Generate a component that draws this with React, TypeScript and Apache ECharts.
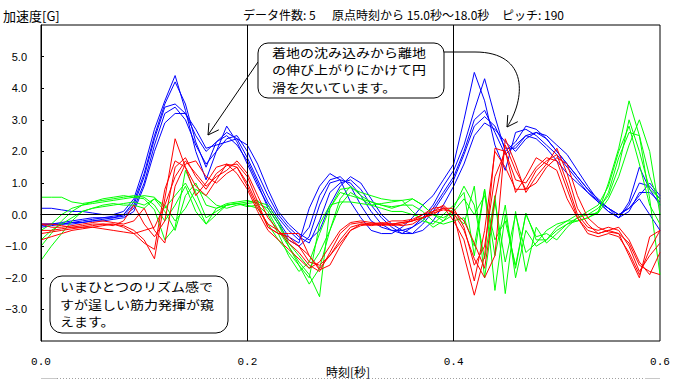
import React, { useEffect, useRef } from 'react';
import * as echarts from 'echarts';

// sampling grid: 0.00 .. 0.60 s, every 0.01 s
const TIMES: number[] = Array.from({ length: 61 }, (_, i) => i / 100);

const X_TICKS = [0, 0.2, 0.4, 0.6];
const Y_LABELS = [-3, -2, -1, 0, 1, 2, 3, 4, 5];

const BLUE_1 = [0.2, 0.2, 0.15, 0.1, 0.1, 0.05, 0.0, 0.0, 0.1, 0.5,
  1.5, 2.7, 3.6, 4.4, 3.3, 2.0, 1.1, 2.0, 2.8, 2.3,
  1.6, 0.9, 0.3, -0.2, -0.7, -0.9, 0.2, 0.9, 1.3, 1.1,
  0.4, -0.1, -0.5, -0.6, -0.6, -0.4, -0.1, 0.3, 0.6, 1.1,
  1.6, 3.0, 4.5, 3.6, 2.2, 1.4, 2.6, 2.7, 2.5, 2.2,
  1.9, 1.5, 1.1, 0.7, 0.4, 0.1, -0.1, 0.4, 1.5, 0.8, 0.3];
const BLUE_2 = [-0.3, -0.3, -0.25, -0.2, -0.15, -0.1, -0.1, -0.05, 0.0, 0.4,
  1.3, 2.5, 3.5, 4.2, 3.5, 2.3, 1.5, 2.3, 2.6, 2.4,
  1.8, 1.1, 0.4, -0.1, -0.5, -0.8, -0.4, 0.6, 1.1, 1.2,
  0.9, 0.3, -0.2, -0.4, -0.5, -0.6, -0.4, -0.1, 0.3, 0.9,
  1.4, 2.2, 3.3, 4.3, 3.1, 2.0, 2.3, 2.8, 2.7, 2.4,
  2.0, 1.6, 1.2, 0.8, 0.5, 0.2, 0.0, 0.2, 0.6, 1.0, 0.6];
const BLUE_3 = [-0.35, -0.3, -0.3, -0.25, -0.2, -0.15, -0.1, -0.1, 0.0, 0.3,
  1.2, 2.4, 3.4, 3.5, 3.2, 2.5, 2.0, 2.3, 2.5, 2.2,
  1.7, 1.0, 0.2, -0.3, -0.8, -1.0, -0.7, 0.3, 1.0, 1.1,
  1.0, 0.6, 0.1, -0.3, -0.5, -0.5, -0.4, -0.2, 0.2, 0.7,
  1.2, 2.0, 3.0, 3.3, 2.6, 1.9, 2.2, 2.5, 2.4, 2.1,
  1.7, 1.3, 1.0, 0.7, 0.4, 0.1, -0.1, 0.3, 1.0, 0.9, 0.5];
const BLUE_4 = [-0.4, -0.35, -0.3, -0.3, -0.25, -0.2, -0.15, -0.1, -0.05, 0.2,
  1.0, 2.2, 3.2, 3.4, 3.0, 2.2, 1.6, 2.0, 2.4, 2.5,
  2.0, 1.3, 0.6, 0.0, -0.4, -0.7, -0.9, -0.2, 0.7, 1.0,
  1.1, 0.8, 0.3, -0.1, -0.4, -0.6, -0.6, -0.3, 0.1, 0.6,
  1.1, 1.9, 2.8, 3.1, 2.8, 2.1, 2.1, 2.5, 2.6, 2.4,
  2.0, 1.6, 1.2, 0.8, 0.4, 0.2, -0.1, 0.1, 0.7, 0.7, 0.4];
const BLUE_5 = [-0.3, -0.3, -0.3, -0.25, -0.25, -0.2, -0.2, -0.15, -0.1, 0.1,
  0.9, 2.0, 2.9, 3.2, 3.2, 2.7, 2.1, 2.2, 2.3, 2.4,
  2.2, 1.6, 0.8, 0.1, -0.3, -0.6, -0.8, -0.5, 0.3, 0.9,
  1.2, 1.0, 0.5, 0.0, -0.3, -0.5, -0.6, -0.5, -0.2, 0.3,
  0.9, 1.6, 2.5, 2.9, 2.7, 2.3, 2.0, 2.4, 2.6, 2.5,
  2.2, 1.9, 1.4, 0.9, 0.45, 0.2, 0.0, 0.2, 0.5, 0.0, -0.5];

const RED_1 = [-0.3, -0.3, -0.35, -0.4, -0.4, -0.35, -0.3, -0.3, -0.35, -0.5,
  -0.8, -1.4, 0.5, 2.4, 1.5, 0.9, 0.6, 1.1, 1.6, 1.5,
  0.9, 0.2, -0.3, -0.5, -0.9, -1.2, -1.6, -1.8, -1.2, -0.6,
  -0.3, -0.25, -0.3, -0.3, -0.3, -0.25, -0.2, -0.1, 0.1, 0.3,
  0.0, -1.3, -2.55, -1.3, 2.1, 2.0, 0.7, 1.2, 1.8, 1.6,
  1.4, 0.5, -0.1, -0.5, -0.6, -0.5, -0.6, -1.3, -2.0, -0.7, -0.5];
const RED_2 = [-0.5, -0.5, -0.45, -0.4, -0.35, -0.3, -0.3, -0.35, -0.2, 0.3,
  -0.3, -0.7, -0.2, 1.5, 1.8, 1.2, 0.8, 1.3, 1.55, 1.6,
  1.2, 0.4, -0.4, -0.6, -0.6, -0.6, -1.3, -1.7, -1.3, -0.8,
  -0.4, -0.3, -0.35, -0.3, -0.2, -0.2, -0.15, 0.0, 0.2, 0.25,
  -0.2, -0.8, -2.1, -0.5, 2.0, 1.5, 0.8, 0.8, 1.4, 1.7,
  1.9, 1.0, 0.0, -0.4, -0.5, -0.4, -0.5, -1.0, -1.8, -1.3, -0.9];
const RED_3 = [-0.8, -0.7, -0.6, -0.5, -0.45, -0.4, -0.35, -0.3, -0.4, -0.6,
  -0.9, -1.1, 0.8, 1.7, 1.5, 0.6, 1.0, 1.5, 1.6, 1.3,
  0.8, 0.1, -0.5, -0.8, -1.1, -1.4, -1.7, -1.5, -1.0, -0.5,
  -0.25, -0.2, -0.25, -0.3, -0.35, -0.3, -0.2, 0.0, 0.1, 0.2,
  0.05, -0.5, -1.4, -2.0, -1.3, 2.4, 1.6, 0.7, 1.2, 1.6,
  2.1, 1.3, 0.2, -0.3, -0.6, -0.5, -0.4, -0.8, -1.5, -1.9, -1.2];
const RED_4 = [-0.6, -0.55, -0.5, -0.45, -0.4, -0.4, -0.45, -0.5, -0.55, -0.6,
  -0.5, -0.4, 0.3, 1.2, 1.7, 1.3, 0.9, 1.2, 1.4, 1.7,
  1.3, 0.6, -0.1, -0.5, -0.8, -1.0, -1.3, -1.75, -1.6, -1.0,
  -0.5, -0.35, -0.3, -0.25, -0.3, -0.35, -0.3, -0.1, 0.05, 0.15,
  0.1, -0.2, -0.9, -1.7, 0.5, 2.2, 1.4, 0.8, 1.0, 1.5,
  1.8, 1.6, 0.6, -0.1, -0.4, -0.55, -0.6, -0.9, -1.6, -1.8, -1.9];
const RED_5 = [-0.3, -0.4, -0.4, -0.35, -0.3, -0.25, -0.2, -0.25, -0.3, -0.2,
  0.2, -0.5, -0.9, 0.9, 1.6, 1.7, 1.2, 1.0, 1.3, 1.5,
  1.0, 0.3, -0.4, -0.6, -0.7, -1.0, -1.5, -1.6, -1.3, -0.9,
  -0.5, -0.3, -0.3, -0.35, -0.3, -0.25, -0.2, -0.1, 0.0, 0.2,
  0.2, -0.4, -1.6, -1.0, 1.2, 2.0, 1.1, 1.0, 1.5, 1.8,
  1.7, 0.8, -0.1, -0.6, -0.7, -0.6, -0.7, -1.2, -1.9, -1.1, -0.5];

const GREEN_1 = [0.55, 0.55, 0.55, 0.4, 0.35, 0.4, 0.5, 0.55, 0.6, 0.55,
  0.5, 0.15, -0.8, -0.4, 1.4, 0.7, -0.1, 0.1, 0.3, 0.35,
  0.4, 0.45, 0.1, -0.5, -1.0, -1.5, -1.9, -2.6, 0.2, 0.8,
  0.85, 0.7, 0.6, 0.5, 0.45, 0.45, 0.1, -0.2, -0.3, 0.0,
  0.3, 0.7, -1.3, 0.8, -2.4, 0.0, -1.7, 0.05, -0.8, -0.8,
  -0.5, -0.3, -0.2, -0.1, 0.05, 1.0, 2.1, 3.6, 2.5, 0.5, -1.9];
const GREEN_2 = [-1.45, -1.0, -0.6, -0.2, 0.1, 0.2, 0.25, 0.3, 0.35, 0.4,
  0.3, 0.5, 0.1, -0.5, 0.6, 1.0, 0.3, 0.2, 0.3, 0.35,
  0.3, 0.2, -0.3, -0.8, -1.2, -1.6, -2.2, -1.7, -0.5, 0.5,
  0.9, 0.6, 0.4, 0.3, 0.2, 0.3, 0.5, 0.3, 0.0, -0.2,
  0.2, 0.9, 0.3, -1.4, 0.6, -2.5, 0.1, -1.8, -0.4, -0.9,
  -0.6, -0.3, -0.1, 0.0, 0.2, 0.6, 1.5, 3.0, 2.0, 0.8, 0.5];
const GREEN_3 = [-1.0, -0.6, -0.2, 0.1, 0.3, 0.4, 0.45, 0.5, 0.55, 0.6,
  0.55, 0.3, -0.2, 0.3, 0.9, 0.1, -0.3, 0.0, 0.3, 0.35,
  0.25, 0.3, 0.0, -0.6, -1.3, -1.8, -1.5, -0.6, 0.2, 0.7,
  0.6, 0.5, 0.3, 0.2, 0.1, 0.1, 0.0, -0.1, -0.4, -0.2,
  0.0, -0.3, 0.9, -2.0, 0.4, -1.5, 0.0, -1.2, -0.9, -0.5,
  -0.3, -0.2, -0.2, -0.1, 0.1, 0.7, 1.8, 2.6, 2.5, 1.2, 0.3];
const GREEN_4 = [-0.8, -0.5, -0.3, -0.1, 0.1, 0.2, 0.3, 0.35, 0.3, 0.3,
  0.2, 0.5, 0.3, -0.2, 0.2, 0.8, 0.6, 0.3, 0.2, 0.3,
  0.35, 0.4, 0.3, -0.2, -0.9, -1.3, -1.7, -1.2, -0.5, 0.3,
  0.7, 0.5, 0.4, 0.3, 0.25, 0.3, 0.3, 0.1, -0.2, -0.3,
  -0.2, -0.1, -1.0, 0.8, -1.3, 0.3, -2.0, -0.5, -1.0, -0.8,
  -0.4, -0.2, 0.0, 0.0, 0.05, 0.5, 1.2, 2.2, 3.0, 2.0, 0.0];
const GREEN_5 = [-0.5, -0.3, 0.0, 0.2, 0.3, 0.35, 0.4, 0.45, 0.5, 0.55,
  0.6, 0.55, 0.2, 0.6, 1.0, 0.4, -0.3, 0.2, 0.35, 0.4,
  0.45, 0.35, 0.2, -0.3, -1.0, -1.6, -2.0, -0.3, 0.3, 0.4,
  0.4, 0.35, 0.3, 0.35, 0.4, 0.45, 0.5, 0.3, 0.0, -0.1,
  0.1, 0.5, 0.0, 0.6, -0.8, -0.2, -1.6, 0.0, -0.7, -0.6,
  -0.8, -0.4, -0.1, 0.1, 0.3, 0.9, 2.0, 2.8, 1.6, 0.3, -0.3];

const BLUE_SET = [BLUE_1, BLUE_2, BLUE_3, BLUE_4, BLUE_5];
const GREEN_SET = [GREEN_1, GREEN_2, GREEN_3, GREEN_4, GREEN_5];
const RED_SET = [RED_1, RED_2, RED_3, RED_4, RED_5];

const HEADER_COUNT = 'データ件数: 5';
const HEADER_RANGE = '原点時刻から 15.0秒〜18.0秒';
const HEADER_PITCH = 'ピッチ: 190';
const Y_NAME = '加速度[G]';
const X_NAME = '時刻[秒]';
const NOTE_1 = ['着地の沈み込みから離地', 'の伸び上がりにかけて円', '滑を欠いています。'];
const NOTE_2 = ['いまひとつのリズム感で', 'すが逞しい筋力発揮が窺', 'えます。'];

const JP = '"Noto Sans CJK JP", sans-serif';

function makeSeries(set: number[][], color: string, withZero: boolean) {
  return set.map((arr, k) => {
    const s: any = {
      type: 'line',
      data: TIMES.map((t, i) => [t, arr[i]]),
      symbol: 'none',
      silent: true,
      lineStyle: { color, width: 1 },
      itemStyle: { color },
      z: 2,
    };
    if (withZero && k === set.length - 1) {
      s.markLine = {
        silent: true,
        symbol: ['none', 'none'],
        label: { show: false },
        lineStyle: { color: '#000', type: 'solid', width: 1 },
        data: [{ yAxis: 0 }],
      };
    }
    return s;
  });
}

function arrowHead(tipX: number, tipY: number, ux: number, uy: number, len: number) {
  const c = Math.cos(Math.PI / 6);
  const s = Math.sin(Math.PI / 6);
  const a = [tipX + len * (c * ux - s * uy), tipY + len * (s * ux + c * uy)];
  const b = [tipX + len * (c * ux + s * uy), tipY + len * (-s * ux + c * uy)];
  return [a, [tipX, tipY], b];
}

function noteLines(lines: string[], x: number, yCenter0: number, step: number) {
  return lines.map((t, i) => ({
    type: 'text', x, y: yCenter0 + i * step, z: 101, scaleX: 14 / 12,
    style: { text: t, font: `12px ${JP}`, fill: '#000', verticalAlign: 'middle', textVerticalAlign: 'middle' },
  }));
}

export default function App() {
  const ref = useRef<HTMLDivElement>(null);
  useEffect(() => {
    if (!ref.current) return;
    const chart = echarts.init(ref.current, undefined, { renderer: 'svg' });
    const u1 = (() => { const dx = 50, dy = -73; const l = Math.hypot(dx, dy); return [dx / l, dy / l]; })();
    const u2 = (() => { const dx = 18, dy = -27; const l = Math.hypot(dx, dy); return [dx / l, dy / l]; })();
    const option: any = {
      animation: false,
      backgroundColor: '#fff',
      grid: {
        left: 41, right: 27, top: 25, bottom: 38,
        show: true, borderColor: '#000', borderWidth: 1, containLabel: false,
      },
      xAxis: {
        type: 'value', min: 0, max: 0.6, interval: 0.2, z: 5,
        axisLine: { show: true, lineStyle: { color: '#000', width: 1 } },
        axisTick: { show: true, customValues: [0.2, 0.4], length: 9, inside: false, lineStyle: { color: '#000' } },
        axisLabel: {
          customValues: X_TICKS,
          formatter: (v: number) => v.toFixed(1),
          margin: 15, color: '#000', fontFamily: '"Liberation Mono", monospace', fontSize: 11,
        },
        splitLine: { show: true, lineStyle: { color: '#000', width: 1 } },
      },
      yAxis: {
        type: 'value', min: -4, max: 6, interval: 1, z: 5,
        axisLine: { show: true, onZero: false, lineStyle: { color: '#000', width: 1 } },
        axisTick: { show: true, inside: true, length: 3, customValues: Y_LABELS, lineStyle: { color: '#000' } },
        axisLabel: {
          customValues: Y_LABELS,
          formatter: (v: number) => (v < 0 ? '\u2212' + Math.abs(v).toFixed(1) : v.toFixed(1)),
          margin: 14, color: '#000', fontFamily: '"Liberation Sans", Arial, sans-serif', fontSize: 11,
        },
        splitLine: { show: false },
      },
      series: [
        ...makeSeries(BLUE_SET, '#0000ff', false),
        ...makeSeries(GREEN_SET, '#00ff00', false),
        ...makeSeries(RED_SET, '#ff0000', true),
      ],
      graphic: [
        { type: 'text', x: 3, y: 15, z: 100, style: { text: Y_NAME, font: `13px ${JP}`, fill: '#000', verticalAlign: 'middle', textVerticalAlign: 'middle' } },
        { type: 'text', x: 243, y: 14, z: 100, style: { text: HEADER_COUNT, font: `12px ${JP}`, fill: '#000', verticalAlign: 'middle', textVerticalAlign: 'middle' } },
        { type: 'text', x: 332, y: 14, z: 100, style: { text: HEADER_RANGE, font: `12px ${JP}`, fill: '#000', verticalAlign: 'middle', textVerticalAlign: 'middle' } },
        { type: 'text', x: 502, y: 14, z: 100, style: { text: HEADER_PITCH, font: `12px ${JP}`, fill: '#000', verticalAlign: 'middle', textVerticalAlign: 'middle' } },
        { type: 'text', x: 348, y: 371, z: 100, style: { text: X_NAME, font: `12px ${JP}`, fill: '#000', align: 'center', textAlign: 'center', verticalAlign: 'middle', textVerticalAlign: 'middle' } },
        // bottom scroll-like dotted rule
        { type: 'line', z: 100, shape: { x1: 41, y1: 378.5, x2: 57, y2: 378.5 }, style: { stroke: '#c8c8c8', lineWidth: 1 } },
        { type: 'line', z: 100, shape: { x1: 57, y1: 378.5, x2: 645, y2: 378.5 }, style: { stroke: '#a0a0a0', lineWidth: 1, lineDash: [1, 2] } },
        { type: 'line', z: 100, shape: { x1: 645, y1: 378.5, x2: 660, y2: 378.5 }, style: { stroke: '#c8c8c8', lineWidth: 1 } },
        // note 1
        { type: 'line', z: 100, shape: { x1: 258, y1: 62, x2: 208, y2: 135 }, style: { stroke: '#000', lineWidth: 1 } },
        { type: 'polyline', z: 100, shape: { points: arrowHead(208, 135, u1[0], u1[1], 12) }, style: { stroke: '#000', lineWidth: 1, fill: null } },
        { type: 'line', z: 100, shape: { x1: 444, y1: 52, x2: 475, y2: 52 }, style: { stroke: '#000', lineWidth: 1 } },
        { type: 'bezierCurve', z: 100, shape: { x1: 475, y1: 52, cpx1: 530, cpy1: 52, cpx2: 525, cpy2: 100, x2: 507, y2: 127 }, style: { stroke: '#000', lineWidth: 1, fill: null } },
        { type: 'polyline', z: 100, shape: { points: arrowHead(507, 127, u2[0], u2[1], 12) }, style: { stroke: '#000', lineWidth: 1, fill: null } },
        { type: 'rect', z: 100, shape: { x: 258, y: 43, width: 186, height: 55, r: 10 }, style: { fill: '#fff', stroke: '#000', lineWidth: 1 } },
        ...noteLines(NOTE_1, 272, 52.5, 17.5),
        // note 2
        { type: 'rect', z: 100, shape: { x: 50, y: 276, width: 178, height: 57, r: 12 }, style: { fill: '#fff', stroke: '#000', lineWidth: 1 } },
        ...noteLines(NOTE_2, 60, 287, 17.5),
      ],
    };
    chart.setOption(option);
    return () => chart.dispose();
  }, []);
  return (
    <div
      ref={ref}
      style={{ position: 'absolute', left: 0, top: 0, width: 687, height: 379, background: '#fff' }}
    />
  );
}
